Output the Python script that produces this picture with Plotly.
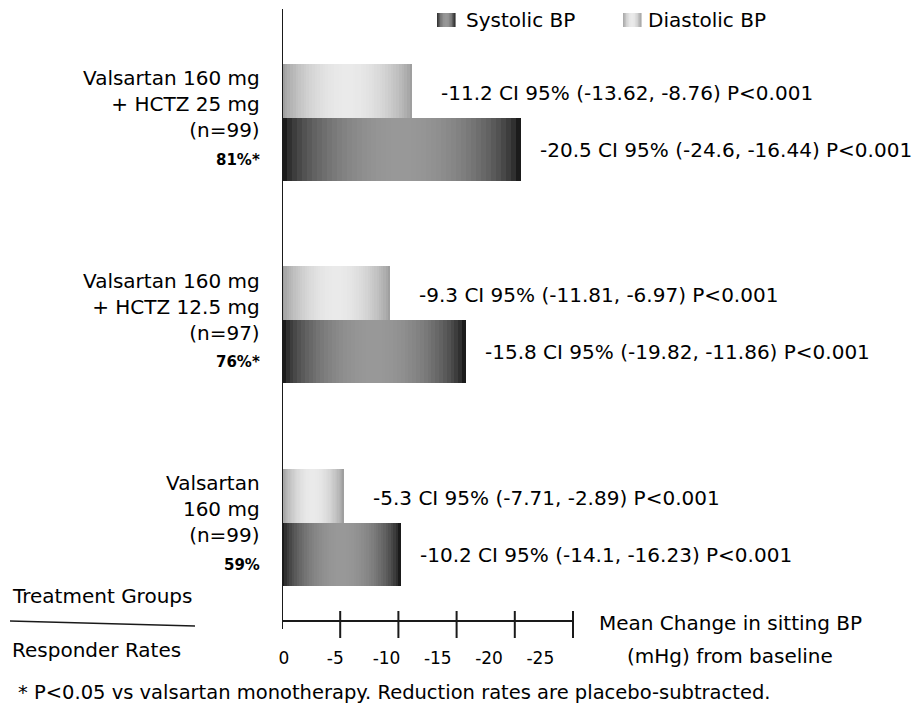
import numpy as np
import plotly.graph_objects as go

# ---------------- data ----------------
group_labels = ["Valsartan 160 mg<br>+ HCTZ 25 mg<br>(n=99)",
                "Valsartan 160 mg<br>+ HCTZ 12.5 mg<br>(n=97)",
                "Valsartan<br>160 mg<br>(n=99)"]
group_pos = [2, 1, 0]
responder_rates = ["81%*", "76%*", "59%"]
systolic = [-20.5, -15.8, -10.2]
diastolic = [-11.2, -9.3, -5.3]
sys_ci_low = [-24.6, -19.82, -14.1]
sys_ci_high = [-16.44, -11.86, -16.23]
dia_ci_low = [-13.62, -11.81, -7.71]
dia_ci_high = [-8.76, -6.97, -2.89]
p_values = ["P<0.001", "P<0.001", "P<0.001"]
tick_vals = [0, -5, -10, -15, -20, -25]
tick_text = ["0", "-5", "-10", "-15", "-20", "-25"]

# ---------------- layout geometry (page pixels; the page body has an 8px margin) ----------------
BODY = 8
PAGE_W, PAGE_H = 920, 708
PLOT_LEFT, PLOT_RIGHT, PLOT_TOP, PLOT_BOTTOM = 282, 900, 9, 629
W_FIG, H_FIG = PAGE_W - BODY, PAGE_H - BODY
L = PLOT_LEFT - BODY
R = PAGE_W - PLOT_RIGHT
T = PLOT_TOP - BODY
B = PAGE_H - PLOT_BOTTOM
PW = PLOT_RIGHT - PLOT_LEFT
PH = PLOT_BOTTOM - PLOT_TOP
PX_PER_UNIT = 11.64
X_RANGE = [0, -PW / PX_PER_UNIT]
Y_UNIT_PX = 202.5
Y_BOTTOM = -(PLOT_BOTTOM - 522.5) / Y_UNIT_PX
Y_RANGE = [Y_BOTTOM, Y_BOTTOM + PH / Y_UNIT_PX]
DIA_W = 54 / Y_UNIT_PX
SYS_W = 63 / Y_UNIT_PX

FONT = "DejaVu Sans"


def px_x(px):
    return (px - PLOT_LEFT) / PW


def px_y(py):
    return (PLOT_BOTTOM - py) / PH


def sys_gray(t):
    g = int(round(152 * np.sin(np.pi * t) ** 0.5))
    return f"rgb({g},{g},{g})"


def dia_gray(t):
    g = int(round(152 + 82 * np.sin(np.pi * t) ** 0.7))
    return f"rgb({g},{g},{g})"


N = 48


def gradient_trace(values, width, offset, colorfn):
    ys, xs, bases, cols = [], [], [], []
    for pos, v in zip(group_pos, values):
        for i in range(N):
            ys.append(pos)
            bases.append(v * i / N)
            xs.append(v * (N - i) / N)
            cols.append(colorfn((i + 0.5) / N))
    return go.Bar(y=ys, x=xs, base=bases, orientation="h", width=width,
                  offset=offset, marker=dict(color=cols, line=dict(width=0)),
                  hoverinfo="skip", showlegend=False)


fig = go.Figure()
fig.add_trace(gradient_trace(diastolic, DIA_W, 0, dia_gray))
fig.add_trace(gradient_trace(systolic, SYS_W, -SYS_W, sys_gray))
# carrier for the tick-label axis
fig.add_trace(go.Scatter(x=tick_vals, y=[Y_BOTTOM] * len(tick_vals), xaxis="x2",
                         mode="markers", marker=dict(opacity=0), hoverinfo="skip",
                         showlegend=False))

ann = []
for pos, v, lo, hi, p in zip(group_pos, diastolic, dia_ci_low, dia_ci_high, p_values):
    ann.append(dict(x=v, y=pos, xref="x", yref="y", xanchor="left", yanchor="middle",
                    xshift=27, yshift=25, showarrow=False,
                    text=f"{v} CI 95% ({lo}, {hi}) {p}"))
for pos, v, lo, hi, p in zip(group_pos, systolic, sys_ci_low, sys_ci_high, p_values):
    ann.append(dict(x=v, y=pos, xref="x", yref="y", xanchor="left", yanchor="middle",
                    xshift=17, yshift=-32, showarrow=False,
                    text=f"{v} CI 95% ({lo}, {hi}) {p}"))
for pos, lab, rr in zip(group_pos, group_labels, responder_rates):
    ann.append(dict(x=0, y=pos, xref="x", yref="y", xanchor="right", yanchor="middle",
                    xshift=-20, yshift=13.5, showarrow=False, align="right", text=lab))
    ann.append(dict(x=0, y=pos, xref="x", yref="y", xanchor="right", yanchor="middle",
                    xshift=-20, yshift=-42, showarrow=False,
                    text=f"<b>{rr}</b>", font=dict(size=15)))

ann += [
    dict(x=px_x(10), y=px_y(596), xref="paper", yref="paper", xanchor="left",
         yanchor="middle", showarrow=False, text="Treatment Groups"),
    dict(x=px_x(10), y=px_y(650), xref="paper", yref="paper", xanchor="left",
         yanchor="middle", showarrow=False, text="Responder Rates"),
    dict(x=px_x(730), y=px_y(623), xref="paper", yref="paper", xanchor="center",
         yanchor="middle", showarrow=False, text="Mean Change in sitting BP"),
    dict(x=px_x(730), y=px_y(656), xref="paper", yref="paper", xanchor="center",
         yanchor="middle", showarrow=False, text="(mHg) from baseline"),
    dict(x=px_x(16), y=px_y(692), xref="paper", yref="paper", xanchor="left",
         yanchor="middle", showarrow=False, font=dict(size=19.5),
         text="* P<0.05 vs valsartan monotherapy. Reduction rates are placebo-subtracted."),
    dict(x=px_x(464), y=px_y(20), xref="paper", yref="paper", xanchor="left",
         yanchor="middle", showarrow=False, text="Systolic BP"),
    dict(x=px_x(646), y=px_y(20), xref="paper", yref="paper", xanchor="left",
         yanchor="middle", showarrow=False, text="Diastolic BP"),
]

shapes = []
AX = "#1a1a1a"
# vertical axis
shapes.append(dict(type="line", xref="x", yref="paper", x0=0, x1=0, y0=0, y1=1,
                   line=dict(color=AX, width=2)))
# horizontal axis
shapes.append(dict(type="line", xref="x", yref="paper", x0=10 / PX_PER_UNIT, x1=tick_vals[-1],
                   y0=px_y(621), y1=px_y(621), line=dict(color=AX, width=2)))
for tv in tick_vals[1:]:
    shapes.append(dict(type="line", xref="x", yref="paper", x0=tv, x1=tv,
                       y0=px_y(611), y1=px_y(638), line=dict(color=AX, width=2)))
# separator between "Treatment Groups" and "Responder Rates"
shapes.append(dict(type="line", xref="paper", yref="paper", x0=px_x(10), x1=px_x(195),
                   y0=px_y(621), y1=px_y(626), line=dict(color=AX, width=1.5)))
# legend swatches with gradient
NS = 12
for (x0, x1, fn) in [(437, 455, sys_gray), (623, 641, dia_gray)]:
    for i in range(NS):
        a = x0 + (x1 - x0) * i / NS
        b = x0 + (x1 - x0) * (i + 1) / NS + 0.6
        shapes.append(dict(type="rect", xref="paper", yref="paper",
                           x0=px_x(a), x1=px_x(b), y0=px_y(13), y1=px_y(27),
                           line=dict(width=0), fillcolor=fn((i + 0.5) / NS)))

fig.update_layout(
    width=W_FIG, height=H_FIG,
    margin=dict(l=L, r=R, t=T, b=B, pad=0),
    paper_bgcolor="white", plot_bgcolor="white",
    barmode="overlay", bargap=0,
    font=dict(family=FONT, size=20, color="black"),
    xaxis=dict(range=X_RANGE, visible=False, fixedrange=True),
    xaxis2=dict(overlaying="x", anchor="y", side="bottom",
                range=[(PLOT_LEFT - 280) / 10.32, -(PLOT_RIGHT - 280) / 10.32],
                tickvals=tick_vals, ticktext=tick_text, tickmode="array",
                showline=False, showgrid=False, zeroline=False,
                ticks="outside", ticklen=14, tickcolor="rgba(0,0,0,0)",
                tickfont=dict(size=17, family=FONT, color="black")),
    yaxis=dict(range=Y_RANGE, visible=False, fixedrange=True),
    annotations=ann, shapes=shapes,
)

fig.write_html("out.html")
